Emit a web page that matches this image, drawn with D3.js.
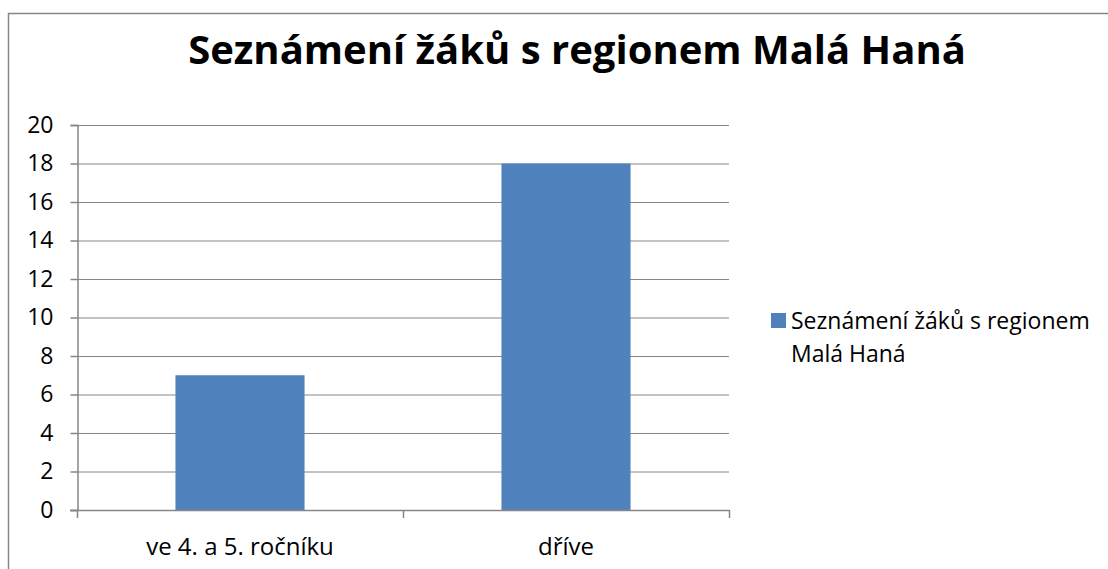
<!DOCTYPE html>
<html>
<head>
<meta charset="utf-8">
<script src="https://cdn.jsdelivr.net/npm/d3@7"></script>
<style>
  body { margin: 0; background: #fff; }
  text { font-family: "Open Sans", sans-serif; fill: #000; }
</style>
</head>
<body>
<svg id="chart" width="1108" height="569"></svg>
<script>
const title = 'Seznámení žáků s regionem Malá Haná';
const categories = ['ve 4. a 5. ročníku', 'dříve'];
const values = [7, 18];
const yTicks = [0, 2, 4, 6, 8, 10, 12, 14, 16, 18, 20];
const legendLines = ['Seznámení žáků s regionem', 'Malá Haná'];

const svg = d3.select('#chart');
const plotLeft = 77, plotRight = 729, plotTop = 125, plotBottom = 510;
const gray = '#868686';

// outer chart border (runs off the right and bottom edges)
svg.append('rect')
    .attr('x', 8.5).attr('y', 13.5)
    .attr('width', 1200).attr('height', 700)
    .attr('fill', 'none').attr('stroke', gray).attr('stroke-width', 1.5);

svg.append('text')
    .attr('x', 577).attr('y', 64)
    .attr('text-anchor', 'middle')
    .attr('font-size', 40).attr('font-weight', 'bold')
    .text(title);

const x = d3.scaleBand().domain(categories).range([plotLeft, plotRight])
    .paddingInner(0.604).paddingOuter(0.302);
const y = d3.scaleLinear().domain([0, 20]).range([plotBottom, plotTop]);

// gridlines
svg.append('g').selectAll('line').data(yTicks.filter(d => d > 0)).enter()
    .append('line')
    .attr('x1', plotLeft).attr('x2', plotRight)
    .attr('y1', d => y(d) + 0.5).attr('y2', d => y(d) + 0.5)
    .attr('stroke', gray).attr('stroke-width', 1);

// bars
svg.append('g').selectAll('rect').data(values).enter()
    .append('rect')
    .attr('x', (d, i) => x(categories[i]))
    .attr('y', d => y(d))
    .attr('width', x.bandwidth())
    .attr('height', d => y(0) - y(d))
    .attr('fill', '#4F81BD');

// y axis
const yAxis = svg.append('g').attr('transform', `translate(${plotLeft + 0.5},0)`)
    .call(d3.axisLeft(y).tickValues(yTicks).tickSize(7).tickPadding(17));
yAxis.select('.domain').attr('stroke', gray).attr('stroke-width', 1.5);
yAxis.selectAll('.tick line').attr('stroke', gray).attr('stroke-width', 1.5);
yAxis.selectAll('.tick text').attr('font-size', 23).attr('font-family', '"Open Sans", sans-serif');

// x axis baseline with category separators
const xg = svg.append('g');
xg.append('line').attr('x1', plotLeft - 7).attr('x2', plotRight + 0.5)
    .attr('y1', plotBottom + 0.5).attr('y2', plotBottom + 0.5)
    .attr('stroke', gray).attr('stroke-width', 1.5);
const seps = [plotLeft, ...categories.map(c => x(c) + x.bandwidth() + x.step() * x.paddingInner() / 2)];
seps[seps.length - 1] = plotRight;
xg.selectAll('line.sep').data(seps).enter().append('line')
    .attr('class', 'sep')
    .attr('x1', d => d + 0.5).attr('x2', d => d + 0.5)
    .attr('y1', plotBottom).attr('y2', plotBottom + 8)
    .attr('stroke', gray).attr('stroke-width', 1.5);
xg.selectAll('text').data(categories).enter().append('text')
    .attr('x', d => x(d) + x.bandwidth() / 2)
    .attr('y', 555)
    .attr('text-anchor', 'middle')
    .attr('font-size', 24)
    .text(d => d);

// legend
const lg = svg.append('g');
lg.append('rect').attr('x', 771).attr('y', 313).attr('width', 15).attr('height', 15)
    .attr('fill', '#4F81BD');
lg.selectAll('text').data(legendLines).enter().append('text')
    .attr('x', 791).attr('y', (d, i) => 329 + i * 33)
    .attr('font-size', 23)
    .text(d => d);
</script>
</body>
</html>
